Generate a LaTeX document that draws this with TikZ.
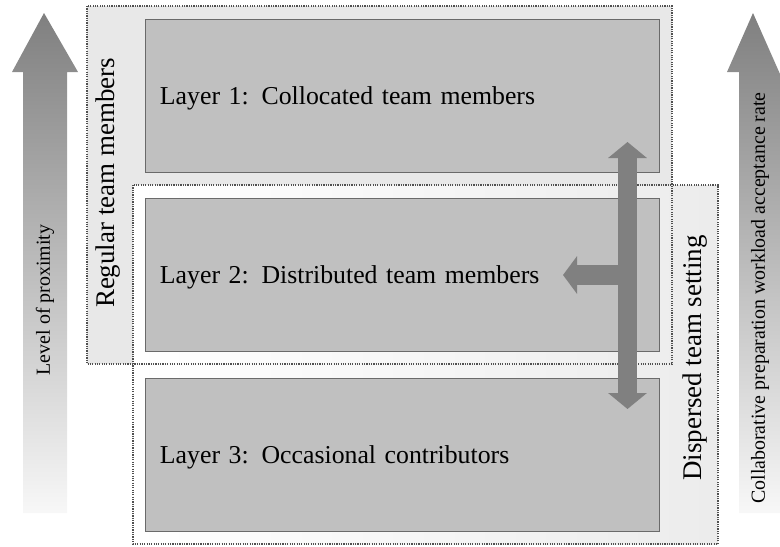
\documentclass[tikz,border=0pt]{standalone}
\usepackage{fontspec}
\setmainfont{Liberation Serif}
\usetikzlibrary{arrows.meta}
\definecolor{layerfill}{HTML}{C0C0C0}
\definecolor{layerline}{HTML}{6A6A6A}
\definecolor{zoneline}{HTML}{505050}
\definecolor{flowgray}{HTML}{808080}
\begin{document}
\begin{tikzpicture}[x=0.03cm, y=-0.03cm,
  layer/.style={draw=layerline, fill=layerfill, line width=0.8pt, text width=14.52cm, text depth=0pt, inner xsep=0.45cm, minimum height=4.59cm, align=left, font=\fontsize{22}{26}\selectfont},
  zone/.style={draw=zoneline, line width=1pt, dash pattern=on 1pt off 1pt},
  side/.style={rotate=90, font=\fontsize{23}{27}\selectfont},
  scalelbl/.style={rotate=90, font=\fontsize{17}{20}\selectfont},
  flow/.style={draw=flowgray, line width=0.57cm}
]
\useasboundingbox (0,0) rectangle (780,546);

% Scale arrows (left and right)
\shade[top color=black!50, bottom color=white!97!black]
  (23,513) -- (23,72) -- (12,72) -- (44,13) -- (78,72) -- (67,72) -- (67,513) -- cycle;
\shade[top color=black!50, bottom color=white!97!black]
  (739,513) -- (739,72) -- (727,72) -- (753,13) -- (780,74) -- (780,513) -- cycle;
\node[scalelbl] (prox) at (45,300) {Level of proximity};
\node[scalelbl] (rate) at (760,298) {Collaborative preparation workload acceptance rate};

% Team zones
\fill[gray!18] (87,6) rectangle (672,364);
\shade[left color=white, right color=gray!15] (133,185) rectangle (718,544);
\draw[zone] (133,185) rectangle (718,544);
\draw[zone] (87,6) rectangle (672,364);
\node[side] (regular) at (108,183) {Regular team members};
\node[side] (dispersed) at (695,358) {Dispersed team setting};

% Layers
\node[layer] (l1) at (402,96) {Layer 1: Collocated team members};
\node[layer] (l2) at (402,275) {Layer 2: Distributed team members};
\node[layer] (l3) at (402,455) {Layer 3: Occasional contributors};

% Exchange between layers
\coordinate (up) at (627.5,142);
\coordinate (down) at (627.5,409);
\coordinate (mid) at (627.5,275);
\coordinate (side) at (563,275);
\draw[flow, {Triangle[width=1.14cm, length=0.48cm]}-{Triangle[width=1.14cm, length=0.48cm]}] (up) -- (down);
\draw[flow, line width=0.6cm, -{Triangle[width=1.11cm, length=0.42cm]}] (mid) -- (side);

\end{tikzpicture}
\end{document}
